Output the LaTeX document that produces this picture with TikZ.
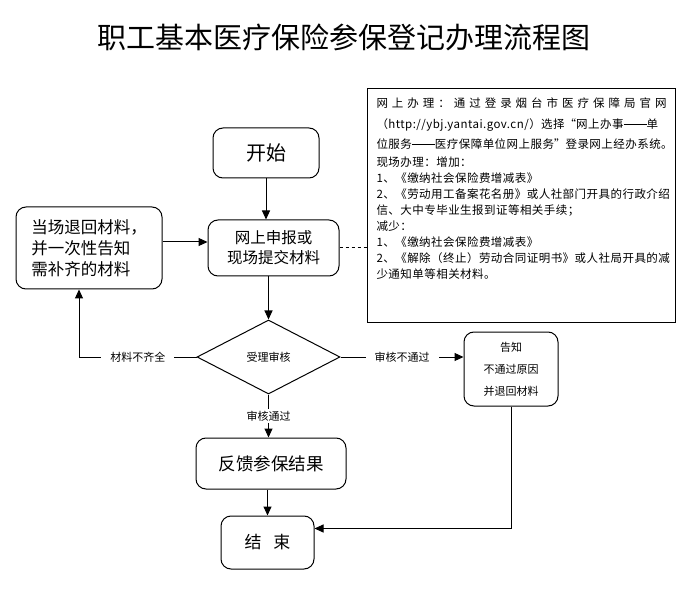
\documentclass[tikz,border=0pt]{standalone}
\usepackage{fontspec}
\setmainfont{Noto Sans CJK SC}
\usepackage{tikz}
\usetikzlibrary{shapes.geometric, arrows.meta, positioning, calc}
\newcommand{\cjkdash}{\rule[0.33em]{2em}{0.07em}}
\newcommand{\lquo}{\makebox[1em][r]{“}}
\newcommand{\rquo}{\makebox[1em][l]{”}}

\begin{document}
\begin{tikzpicture}[
  x=1pt, y=-1pt,
  box/.style={rectangle, rounded corners=10pt, draw, line width=1pt, fill=white, align=center, inner sep=2pt},
  decision/.style={diamond, draw, line width=1pt, fill=white, aspect=1.93, minimum width=143pt, minimum height=74pt, inner sep=0pt, font=\fontsize{11}{13}\selectfont},
  note/.style={rectangle, draw, line width=1pt, fill=white, inner sep=9pt},
  tag/.style={fill=white, inner xsep=9pt, inner ysep=2pt, font=\fontsize{11}{13}\selectfont},
  arrow/.style={-{Triangle[length=9pt,width=8pt]}, line width=1pt},
  line/.style={line width=1pt}
]
  \fill[white] (0,0) rectangle (698,593);
  \useasboundingbox (0,0) rectangle (698,593);

  % Title
  \node (title) at (344,37) {\fontsize{29}{35}\selectfont 职工基本医疗保险参保登记办理流程图};

  % Nodes
  \node (start) [box, minimum width=106pt, minimum height=50pt, font=\fontsize{20}{24}\selectfont] at (266,153) {开始};
  \node (apply) [box, minimum width=131pt, minimum height=56pt, font=\fontsize{15.5}{20}\selectfont, below=41pt of start, xshift=7.5pt] {网上申报或\\现场提交材料};
  \node (back) [box, align=left, minimum width=146pt, minimum height=82pt, font=\fontsize{16.5}{21}\selectfont, left=45pt of apply] {当场退回材料，\\并一次性告知\\需补齐的材料};

  \node (check) [decision, below=43pt of apply, xshift=-5pt] {受理审核};
  \node (notify) [box, minimum width=94pt, minimum height=74pt, font=\fontsize{11}{22}\selectfont, right=123pt of check, yshift=-12pt] {告知\\不通过原因\\并退回材料};

  \node (feedback) [box, minimum width=150pt, minimum height=51pt, font=\fontsize{17.5}{21}\selectfont, below=43pt of check, xshift=2.5pt] {反馈参保结果};
  \node (finish) [box, minimum width=93pt, minimum height=53pt, font=\fontsize{17}{21}\selectfont, below=26pt of feedback, xshift=-3.5pt] {结\hspace{12pt}束};

  \node (info) [note, anchor=north west] at (367,88) {\parbox[t][216pt][t]{290pt}{\fontsize{11.5}{16}\selectfont\addfontfeature{LetterSpace=4}
    \makebox[\linewidth][s]{网\hfill 上\hfill 办\hfill 理\hfill ：\hfill 通\hfill 过\hfill 登\hfill 录\hfill 烟\hfill 台\hfill 市\hfill 医\hfill 疗\hfill 保\hfill 障\hfill 局\hfill 官\hfill 网}\\[5pt]
    （http://ybj.yantai.gov.cn/）选择\lquo 网上办事\cjkdash 单\\[4pt]
    位服务\cjkdash 医疗保障单位网上服务\rquo 登录网上经办系统。\\[2pt]
    现场办理：增加：\\
    1、《缴纳社会保险费增减表》\\
    2、《劳动用工备案花名册》或人社部门开具的行政介绍\\
    信、大中专毕业生报到证等相关手续；\\
    减少：\\
    1、《缴纳社会保险费增减表》\\
    2、《解除（终止）劳动合同证明书》或人社局开具的减\\
    少通知单等相关材料。}};

  % Connectors
  \coordinate (backIn) at ([xshift=-10pt]back.south);
  \coordinate (finIn) at ([yshift=14pt]finish.east);

  \draw [arrow] (start) -- (start |- apply.north);
  \draw [arrow] ([yshift=6pt]back.east) -- ([yshift=6pt]back.east -| apply.west);
  \draw [line, dashed] (apply.east) -- (apply.east -| info.west);
  \draw [arrow] (check |- apply.south) -- (check.north);

  \draw [arrow] (check.west) -- node[tag] {材料不齐全} (check.west -| backIn) -- (backIn);
  \draw [arrow] (check.east) -- node[tag] {审核不通过} (check.east -| notify.west);
  \draw [arrow] (check.south) -- node[tag] {审核通过} (check.south |- feedback.north);

  \draw [arrow] (finish |- feedback.south) -- (finish.north);
  \draw [arrow] (notify.south) -- (notify.south |- finIn) -- (finIn);
\end{tikzpicture}
\end{document}
